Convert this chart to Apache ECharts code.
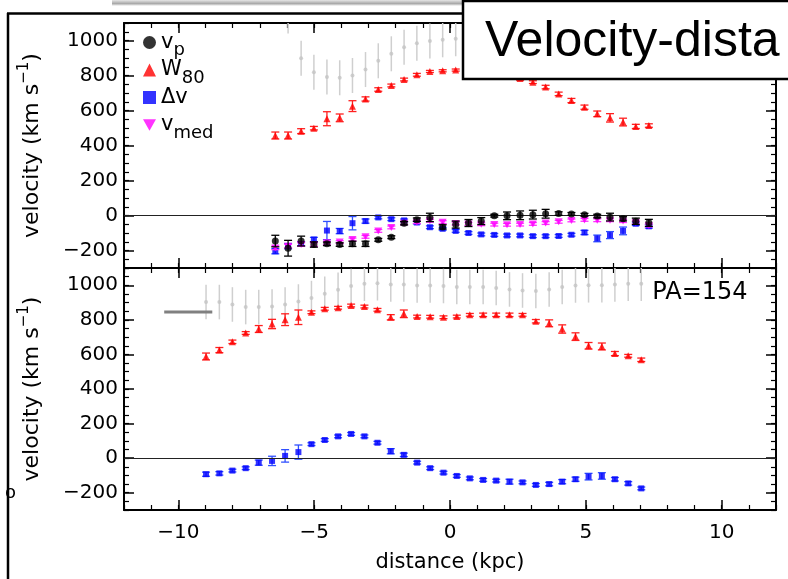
<!DOCTYPE html>
<html><head><meta charset="utf-8">
<script src="https://cdn.jsdelivr.net/npm/echarts@6/dist/echarts.min.js"></script>
<style>html,body{margin:0;padding:0;background:#fff;}#c{width:788px;height:579px;}</style>
</head><body><div id="c"></div>
<script>
// ---------- data: top panel ----------
const topDist = [-6.43,-5.96,-5.48,-5.01,-4.53,-4.06,-3.59,-3.11,-2.64,-2.16,-1.69,-1.22,-0.74,-0.27,0.21,0.68,1.15,1.63,2.10,2.58,3.05,3.52,4.00,4.47,4.95,5.42,5.89,6.37,6.84,7.32];
const topW80 = [457,457,482,499,553,558,625,666,720,743,777,804,823,827,831,830,826,815,800,783,762,734,695,657,619,581,558,534,509,514];
const topW80Err = [20,20,14,10,40,22,31,12,10,8,8,8,6,6,6,6,6,6,8,10,8,10,10,12,12,16,24,22,12,10];
const topGray = [null,1140,899,819,791,787,800,834,884,924,962,985,997,1004,1010,null,null,null,null,null,null,null,null,null,null,null,null,null,null,null];
const topGrayErr = [100,100,100,100,100,100,100,100,100,100,100,100,100,100,100,100,100,100,100,100,100,100,100,100,100,100,100,100,100,100];
const topVp = [-146,-187,-146,-166,-162,-166,-162,-162,-139,-124,-44,-24,-11,-65,-52,-43,-32,-1,-2,1,5,10,11,9,4,-3,-9,-19,-33,-42];
const topVpErr = [33,45,28,15,10,10,15,15,8,8,10,10,24,12,20,20,20,8,22,25,25,25,10,8,8,10,22,12,18,20];
const topDv = [-204,-175,-162,-137,-86,-89,-44,-32,-11,-21,-28,-40,-67,-76,-88,-100,-108,-111,-114,-114,-118,-118,-117,-110,-97,-131,-112,-88,-47,-62];
const topDvErr = [15,15,12,12,52,15,38,12,8,8,8,8,8,8,8,8,8,8,8,8,8,8,8,8,12,19,20,22,10,10];
const topVmed = [-185,-175,-166,-166,-156,-152,-137,-122,-88,-68,-44,-38,-30,-38,-46,-48,-50,-52,-53,-52,-48,-43,-36,-28,-25,-27,-27,-32,-40,-57];
const topVmedErr = [10,10,10,10,8,8,8,8,8,8,8,8,8,8,8,8,8,8,8,8,8,8,8,8,8,8,8,8,8,8];
// ---------- data: bottom panel ----------
const botDist = [-8.98,-8.49,-8.01,-7.52,-7.04,-6.55,-6.07,-5.58,-5.10,-4.61,-4.12,-3.64,-3.15,-2.67,-2.18,-1.70,-1.21,-0.73,-0.24,0.25,0.73,1.22,1.70,2.19,2.67,3.16,3.65,4.13,4.62,5.10,5.59,6.07,6.56,7.04];
const botW80 = [588,625,673,724,747,776,801,815,844,864,870,883,877,858,815,835,819,818,815,819,829,829,829,829,829,792,780,747,703,650,646,605,592,569];
const botW80Err = [20,15,10,8,20,27,34,42,8,8,8,8,8,8,15,22,8,8,8,8,8,10,10,10,8,10,20,24,22,19,20,12,8,10];
const botGray = [903,903,889,874,874,877,889,906,926,951,974,996,1009,1012,1005,1005,999,999,996,990,990,990,984,976,970,967,976,990,999,1000,1000,1005,1009,1009];
const botGrayErr = [100,100,100,100,100,100,100,100,100,100,100,100,100,100,100,100,100,100,100,100,100,100,100,100,100,100,100,100,100,100,100,100,100,100];
const botDv = [-93,-88,-72,-58,-26,-16,13,35,81,105,126,140,126,89,40,19,-26,-58,-84,-103,-117,-126,-130,-136,-140,-155,-150,-136,-122,-107,-103,-122,-146,-175];
const botDvErr = [12,10,8,8,15,27,36,41,8,8,8,8,8,8,15,10,8,8,8,8,8,8,8,14,8,8,10,12,12,19,19,10,10,8];
const beamX = [-10.52,-8.75];
const beamY = [846,846];
// ---------- axes ticks ----------
const xMajor = [-10,-5,0,5,10];
const yMajor = [-200,0,200,400,600,800,1000];
const xRange = [-12,12];
const yRange = [-300,1100];

const FONT = 'DejaVu Sans';
const minus = v => v < 0 ? '\u2212' + Math.abs(v) : String(v);

function pts(xs, ys) { const o=[]; xs.forEach((x,i)=>{ if (ys[i]!=null) o.push([x,ys[i]]); }); return o; }
function errs(xs, ys, es) { const o=[]; xs.forEach((x,i)=>{ if (ys[i]!=null) o.push([x,ys[i],es[i]]); }); return o; }
function errRender(color, width, cap) {
  return function (params, api) {
    const x = api.value(0), y = api.value(1), e = api.value(2);
    const lo = api.coord([x, y - e]), hi = api.coord([x, y + e]);
    const ch = [{type:'line', shape:{x1:lo[0],y1:lo[1],x2:hi[0],y2:hi[1]}, style:{stroke:color,lineWidth:width}}];
    if (cap > 0) {
      ch.push({type:'line', shape:{x1:lo[0]-cap,y1:lo[1],x2:lo[0]+cap,y2:lo[1]}, style:{stroke:color,lineWidth:width}});
      ch.push({type:'line', shape:{x1:hi[0]-cap,y1:hi[1],x2:hi[0]+cap,y2:hi[1]}, style:{stroke:color,lineWidth:width}});
    }
    return {type:'group', children:ch};
  };
}

const xAxes = [], yAxes = [];
const grids = [
  {left:124, top:23, width:652, height:245},
  {left:124, top:268, width:652, height:242}
];
grids.forEach((g, gi) => {
  ['bottom','top'].forEach(pos => {
    const main = pos === 'bottom';
    xAxes.push({gridIndex:gi, type:'value', min:xRange[0], max:xRange[1], position:pos,
      axisLine:{show:true, onZero:false, lineStyle:{color:'#000', width:2}},
      axisTick:{show:true, inside:true, length:10, customValues:xMajor, lineStyle:{color:'#000', width:1.5}},
      axisLabel:{show: main && gi===1, customValues:xMajor, formatter:minus, fontSize:20, fontFamily:FONT, color:'#000', margin:13},
      splitLine:{show:false},
      name: (main && gi===1) ? 'distance (kpc)' : '', nameLocation:'middle', nameGap:42,
      nameTextStyle:{fontSize:21, fontFamily:FONT, color:'#000'}});
    xAxes.push({gridIndex:gi, type:'value', min:xRange[0], max:xRange[1], interval:1, position:pos,
      axisLine:{show:false, onZero:false}, axisTick:{show:true, inside:true, length:5, lineStyle:{color:'#000', width:1.2}},
      axisLabel:{show:false}, splitLine:{show:false}});
  });
  ['left','right'].forEach(pos => {
    const main = pos === 'left';
    yAxes.push({gridIndex:gi, type:'value', min:yRange[0], max:yRange[1], position:pos,
      axisLine:{show:true, onZero:false, lineStyle:{color:'#000', width:2}},
      axisTick:{show:true, inside:true, length:10, customValues:yMajor, lineStyle:{color:'#000', width:1.5}},
      axisLabel:{show: main, customValues:yMajor, formatter:minus, fontSize:20, fontFamily:FONT, color:'#000', margin:6},
      splitLine:{show:false},
      name: main ? '{a|velocity (km s}{b|\u22121}{a|)}' : '', nameLocation:'middle', nameGap:76, nameRotate:90,
      nameTextStyle:{color:'#000', rich:{a:{fontSize:22, fontFamily:FONT, color:'#000'}, b:{fontSize:15, fontFamily:FONT, color:'#000', padding:[0,0,16,0]}}}});
    yAxes.push({gridIndex:gi, type:'value', min:yRange[0], max:yRange[1], interval:50, position:pos,
      axisLine:{show:false, onZero:false}, axisTick:{show:true, inside:true, length:5, lineStyle:{color:'#000', width:1.2}},
      axisLabel:{show:false}, splitLine:{show:false}});
  });
});

const downTri = 'path://M0,0L10,0L5,8.66Z';
const zeroLine = {silent:true, symbol:['none','none'], label:{show:false}, lineStyle:{color:'#222', width:1, type:'solid'}, data:[{yAxis:0}], animation:false};
function grp(g) { return {xAxisIndex: g*4, yAxisIndex: g*4}; }

const series = [
  // top panel
  Object.assign({type:'custom', clip:true, renderItem:errRender('#cfcfcf',1.5,0), data:errs(topDist,topGray,topGrayErr), z:1}, grp(0)),
  Object.assign({type:'scatter', name:'gray', symbol:'circle', symbolSize:4, itemStyle:{color:'#c4c4c4'}, data:pts(topDist,topGray), z:2, markLine:zeroLine}, grp(0)),
  Object.assign({type:'custom', clip:true, renderItem:errRender('#ff2020',1.3,4), data:errs(topDist,topW80,topW80Err), z:3}, grp(0)),
  Object.assign({type:'scatter', name:'W80', symbol:'triangle', symbolSize:7, itemStyle:{color:'#ff0000'}, data:pts(topDist,topW80), z:4}, grp(0)),
  Object.assign({type:'custom', clip:true, renderItem:errRender('#3050ff',1.3,4), data:errs(topDist,topDv,topDvErr), z:3}, grp(0)),
  Object.assign({type:'scatter', name:'dv', symbol:'rect', symbolSize:6, itemStyle:{color:'#0000ff'}, data:pts(topDist,topDv), z:4}, grp(0)),
  Object.assign({type:'custom', clip:true, renderItem:errRender('#ff30ff',1.3,4), data:errs(topDist,topVmed,topVmedErr), z:5}, grp(0)),
  Object.assign({type:'scatter', name:'vmed', symbol:downTri, symbolSize:[8,7], itemStyle:{color:'#ff00ff'}, data:pts(topDist,topVmed), z:6}, grp(0)),
  Object.assign({type:'custom', clip:true, renderItem:errRender('#000000',1.3,4), data:errs(topDist,topVp,topVpErr), z:7}, grp(0)),
  Object.assign({type:'scatter', name:'vp', symbol:'circle', symbolSize:7, itemStyle:{color:'#000000'}, data:pts(topDist,topVp), z:8}, grp(0)),
  // bottom panel
  Object.assign({type:'custom', clip:true, renderItem:errRender('#cfcfcf',1.5,0), data:errs(botDist,botGray,botGrayErr), z:1}, grp(1)),
  Object.assign({type:'scatter', name:'grayB', symbol:'circle', symbolSize:4, itemStyle:{color:'#c4c4c4'}, data:pts(botDist,botGray), z:2, markLine:zeroLine}, grp(1)),
  Object.assign({type:'custom', clip:true, renderItem:errRender('#ff2020',1.3,4), data:errs(botDist,botW80,botW80Err), z:3}, grp(1)),
  Object.assign({type:'scatter', name:'W80b', symbol:'triangle', symbolSize:7, itemStyle:{color:'#ff0000'}, data:pts(botDist,botW80), z:4}, grp(1)),
  Object.assign({type:'custom', clip:true, renderItem:errRender('#3050ff',1.3,4), data:errs(botDist,botDv,botDvErr), z:3}, grp(1)),
  Object.assign({type:'scatter', name:'dvb', symbol:'rect', symbolSize:6, itemStyle:{color:'#0000ff'}, data:pts(botDist,botDv), z:4}, grp(1)),
  Object.assign({type:'line', name:'beam', symbol:'none', lineStyle:{color:'#808080', width:3}, data:pts(beamX,beamY), z:2}, grp(1))
];

const legendMap = {vp:'{m|v}{s|p}', W80:'{m|W}{s|80}', dv:'{m|\u0394v}{s| }', vmed:'{m|v}{s|med}'};

const option = {
  animation:false,
  backgroundColor:'#fff',
  grid: grids.map(g => Object.assign({containLabel:false}, g)),
  xAxis: xAxes,
  yAxis: yAxes,
  legend: {
    orient:'vertical', left:143, top:32, padding:0, itemGap:0, itemWidth:13, itemHeight:13, selectedMode:false,
    data:[{name:'vp',icon:'circle'},{name:'W80',icon:'triangle'},{name:'dv',icon:'rect'},{name:'vmed',icon:downTri}],
    formatter: n => legendMap[n],
    textStyle:{rich:{m:{fontSize:21, fontFamily:FONT, color:'#000'}, s:{fontSize:18, fontFamily:FONT, color:'#000', padding:[16,0,0,0]}}}
  },
  series: series,
  graphic: [
    {type:'rect', shape:{x:112,y:0,width:351,height:6}, style:{fill:new echarts.graphic.LinearGradient(0,0,0,1,[{offset:0,color:'#e6e6e6'},{offset:0.6,color:'#a8a8a8'},{offset:1,color:'#ffffff'}])}, z:50, silent:true},
    {type:'text', x:5, y:493, style:{text:'o', font:'18px "DejaVu Sans"', fill:'#000', verticalAlign:'middle'}, z:50, silent:true},
    {type:'line', shape:{x1:8,y1:13,x2:8,y2:579}, style:{stroke:'#000', lineWidth:2.5}, z:60, silent:true},
    {type:'line', shape:{x1:7,y1:13.5,x2:463,y2:13.5}, style:{stroke:'#000', lineWidth:2.5}, z:60, silent:true},
    {type:'text', x:700, y:293, style:{text:'PA=154', font:'24px "DejaVu Sans"', fill:'#000', align:'center', verticalAlign:'middle'}, z:60, silent:true},
    {type:'rect', shape:{x:463,y:1,width:340,height:78}, style:{fill:'#fff', stroke:'#000', lineWidth:2.5}, z:100, silent:true},
    {type:'text', x:485, y:42, style:{text:'Velocity-dista', font:'50px "Liberation Sans"', fill:'#000', verticalAlign:'middle'}, z:101, silent:true}
  ]
};
const chart = echarts.init(document.getElementById('c'), null, {renderer:'canvas'});
chart.setOption(option);
</script></body></html>
